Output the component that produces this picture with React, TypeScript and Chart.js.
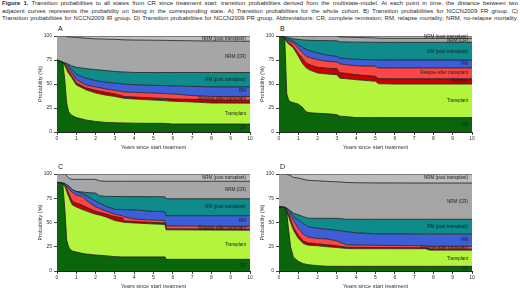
import React, { useEffect, useRef } from 'react';
import { Chart, registerables } from 'chart.js';
Chart.register(...registerables);

// ---------- shared ----------
const Y_TICKS = [0, 25, 50, 75, 100];
const X_TICKS = [0, 1, 2, 3, 4, 5, 6, 7, 8, 9, 10];
const STATE_NAMES = ['CR', 'Transplant', 'Relapse', 'Relapse after transplant', 'RM', 'RM (post transplant)', 'NRM (CR)', 'NRM (post transplant)'];
const STATE_COLORS = ['#0b650b', '#b2f53c', '#c80000', '#ff4646', '#3c5fd8', '#0f8b8b', '#a6a6a6', '#bdbdbd'];
const X_TITLE = 'Years since start treatment';
const Y_TITLE = 'Probability (%)';

// ---------- Panel A: whole cohort (cumulative curves, %) ----------
const timeA = [0, 0.3, 0.4, 0.5, 0.6, 0.75, 1, 1.5, 2, 2.5, 3, 3.5, 4, 5, 5.5, 6, 7, 8, 10];
const crA = [75, 72.5, 55, 30, 21, 17.5, 15, 12.5, 11, 10, 9.6, 9.4, 9.2, 9.0, 9.0, 8.3, 8.3, 8.3, 8.3];
const txA = [75, 72.5, 69, 65, 61, 57, 49, 44, 40.6, 38.5, 37, 35, 34.4, 33.3, 32.7, 32, 31.3, 30.2, 30];
const relA = [75, 72.5, 70, 68, 64, 59, 51, 46, 43.4, 41.5, 39.6, 37, 36.5, 35.4, 35, 34.4, 34, 33.3, 33];
const relTxA = [75, 72.5, 71, 70, 67, 62, 54.5, 49, 47, 45, 43.4, 41.7, 41.3, 40.6, 40, 39.6, 38, 37, 37];
const rmA = [75, 72.5, 71.5, 71, 69, 66, 60, 56, 53.5, 52, 51, 50, 49.3, 48.6, 48.3, 48, 47.5, 47, 47];
const rmTxA = [75, 72.5, 72, 71.5, 70.5, 69, 67.4, 66, 65, 64, 63, 62.5, 62, 62, 62, 62, 62, 62, 62];
const nrmCrA = [100, 100, 100, 99.5, 99, 98.8, 98.5, 97.7, 97, 96.7, 96.5, 96, 95.8, 95.6, 95.5, 95.3, 95, 94.8, 94.5];
const nrmTxA = [100, 100, 100, 100, 100, 100, 100, 100, 100, 100, 100, 100, 100, 100, 100, 100, 100, 100, 100];
const labelYA = [4, 19, null, 35, 43, 54.5, 78, 97];

// ---------- Panel B: NCCN2009 FR ----------
const timeB = [0, 0.25, 0.3, 0.4, 0.5, 0.6, 0.75, 1, 1.2, 1.4, 1.6, 2, 2.5, 3, 3.15, 3.5, 4, 5, 5.15, 6, 10];
const crB = [100, 99, 97, 40, 33, 31.5, 30.5, 29, 26, 21, 20, 19.5, 19, 18, 16.5, 16, 15, 15, 15, 15, 15];
const txB = [100, 99, 97, 94, 91.5, 90, 87.5, 79, 72, 67, 64.5, 61.5, 60.4, 59.7, 56, 55.5, 54.5, 52.8, 50.3, 50, 50];
const relB = [100, 99, 97, 95, 93, 92, 89, 82, 77, 72, 70, 67.4, 66.5, 66, 61.8, 61, 59.7, 58, 55.6, 55.5, 55.5];
const relTxB = [100, 99, 97.5, 96, 95, 94, 92.7, 87.5, 83, 79, 77.5, 75.3, 73.6, 73, 71, 70, 69, 68.4, 66.7, 66.7, 66.7];
const rmB = [100, 99, 98, 97.5, 96.5, 96, 94.4, 91, 88.5, 86, 84.5, 82.3, 80, 78.8, 77, 76.5, 75.7, 75.2, 75, 75, 75];
const rmTxB = [100, 99.5, 99, 98.5, 98, 97.8, 97, 96.5, 96, 95.7, 95.5, 95.3, 95.2, 95, 94, 93.8, 93.6, 93.5, 93.4, 93.4, 93.4];
const nrmCrB = [100, 100, 100, 100, 100, 100, 100, 100, 100, 100, 100, 100, 100, 100, 99, 98.8, 98.5, 98, 97.6, 97.5, 97.5];
const nrmTxB = [100, 100, 100, 100, 100, 100, 100, 100, 100, 100, 100, 100, 100, 100, 100, 100, 100, 100, 100, 100, 100];
const labelYB = [7.6, 32.6, 53.5, 62, 71, 84, 95.5, 99];

// ---------- Panel C: NCCN2009 IR ----------
const timeC = [0, 0.25, 0.3, 0.4, 0.45, 0.5, 0.6, 0.7, 0.8, 1, 1.3, 1.5, 2, 2.2, 2.5, 3, 3.4, 3.45, 4, 5, 5.6, 5.65, 10];
const crC = [91, 90.5, 90, 65, 50, 32, 25, 22, 20.5, 19.5, 18.2, 17.5, 16.5, 16.2, 15.8, 14.8, 14.5, 14.5, 14.5, 14.5, 14.5, 12, 12];
const txC = [91, 90.5, 90, 87, 85, 82, 77, 72, 68, 66, 63.5, 62, 58.5, 57.7, 56, 52, 50.5, 50.3, 49.5, 48.5, 48, 42.5, 42];
const relC = [91, 90.5, 90, 88, 87, 85, 80, 76, 72, 70, 68, 66, 61.5, 60.5, 59, 56, 55, 51.5, 51, 50, 49.5, 43.5, 43];
const relTxC = [91, 90.5, 90, 89, 88, 87, 85, 83, 81, 78, 77, 73, 66, 64.5, 62, 58.5, 57, 56, 53.5, 52.5, 52, 46.5, 46];
const rmC = [91, 90.5, 90.5, 90, 89.5, 89, 88, 86, 84, 82, 80, 78, 72, 70, 67, 63.5, 63.2, 63.2, 63, 61.5, 61, 57, 57];
const rmTxC = [91, 90.8, 90.8, 90.5, 89, 87, 84, 83, 82.5, 82, 81.5, 81, 80.3, 77.5, 77, 76.8, 76.8, 76.8, 76.7, 76.6, 76.5, 74.5, 74.5];
const nrmCrC = [100, 100, 100, 100, 99.5, 98, 96, 95, 94.5, 94.5, 94.5, 94.5, 94.5, 93, 92.5, 92.5, 92.5, 92.5, 92.5, 92.5, 92.5, 92.5, 92.5];
const nrmTxC = [100, 100, 100, 100, 100, 100, 100, 100, 100, 100, 100, 100, 100, 100, 100, 100, 100, 100, 100, 100, 100, 100, 100];
const labelYC = [5.5, 27.3, null, 44.6, 51.5, 66.4, 83.7, 96.5];

// ---------- Panel D: NCCN2009 PR ----------
const timeD = [0, 0.3, 0.4, 0.5, 0.6, 0.75, 1, 1.25, 1.5, 2, 2.5, 3, 3.5, 4, 5, 7.6, 7.8, 10];
const crD = [66, 65.4, 60, 42, 25, 14, 10, 7.6, 6.5, 5.5, 4.8, 4.8, 4.8, 4.8, 4.8, 4.8, 4.8, 4.8];
const txD = [66, 65.4, 60, 56, 50, 42, 33.6, 28.4, 26.6, 26, 25, 24.2, 23.2, 23, 23, 23, 21.5, 21.5];
const relD = [66, 65.4, 62, 58, 53, 45, 37, 31, 29, 28, 27, 26, 24.5, 24.3, 24.2, 24, 22.5, 22.5];
const relTxD = [66, 65.5, 63, 61, 57, 52, 44, 38, 35, 33.5, 33, 31, 27, 26.8, 26.5, 26, 25.5, 25.5];
const rmD = [66, 65.6, 64, 63, 61, 56, 52.6, 49, 45.7, 44, 43, 42, 40.5, 39.4, 38.4, 38, 38, 38];
const rmTxD = [66, 65.8, 65, 63.5, 62, 59.5, 58, 56, 54.5, 54.3, 54.3, 54.3, 53.3, 53.3, 53.3, 53.3, 53.3, 53.3];
const nrmCrD = [100, 100, 100, 99, 98.3, 96.5, 95.8, 94.5, 93.5, 93, 92.4, 92, 91.3, 91, 90.8, 90.7, 90.7, 90.7];
const nrmTxD = [100, 100, 100, 100, 100, 100, 100, 100, 100, 100, 100, 100, 100, 100, 100, 100, 100, 100];
const labelYD = [2.4, 12.8, null, 24.2, 31.8, 45.7, 71.6, 95.8];

const CAPTION_LINES = [
  'Transition probabilities to all states from CR since treatment start: transition probabilities derived from the multistate-model. At each point in time, the distance between two',
  'adjacent curves represents the probability on being in the corresponding state. A) Transition probabilities for the whole cohort. B) Transition probabilities for NCCN2009 FR group. C)',
  'Transition probabilities for NCCN2009 IR group. D) Transition probabilities for NCCN2009 PR group. Abbreviations: CR, complete remission; RM, relapse mortality; NRM, no-relapse mortality.',
];

const PANELS = [
  { letter: 'A', times: timeA, curves: [crA, txA, relA, relTxA, rmA, rmTxA, nrmCrA, nrmTxA], labels: labelYA, left: 30, top: 30, plotH: 96 },
  { letter: 'B', times: timeB, curves: [crB, txB, relB, relTxB, rmB, rmTxB, nrmCrB, nrmTxB], labels: labelYB, left: 252, top: 30, plotH: 96 },
  { letter: 'C', times: timeC, curves: [crC, txC, relC, relTxC, rmC, rmTxC, nrmCrC, nrmTxC], labels: labelYC, left: 30, top: 168, plotH: 97 },
  { letter: 'D', times: timeD, curves: [crD, txD, relD, relTxD, rmD, rmTxD, nrmCrD, nrmTxD], labels: labelYD, left: 252, top: 168, plotH: 97 },
];

const FONT = '"Liberation Sans", Arial, sans-serif';
const CANVAS_W = 228;
const PAD_TOP = 6;
const PAD_RIGHT = 8;
const Y_AXIS_W = 27;
const X_AXIS_H = 23;

type PanelProps = { times: number[]; curves: number[][]; labels: (number | null)[]; plotH: number };

function PanelChart({ times, curves, labels, plotH }: PanelProps) {
  const ref = useRef<HTMLCanvasElement>(null);
  const h = PAD_TOP + plotH + X_AXIS_H;
  useEffect(() => {
    if (!ref.current) return;
    const datasets = curves.map((c, i) => ({
      label: STATE_NAMES[i],
      data: times.map((t, j) => ({ x: t, y: c[j] })),
      backgroundColor: STATE_COLORS[i],
      borderColor: '#1b1b1b',
      borderWidth: 0.8,
      pointRadius: 0,
      tension: 0,
      fill: i === 0 ? 'origin' : '-1',
    }));
    const labelPlugin = {
      id: 'stateLabels',
      afterDatasetsDraw(chart: any) {
        const { ctx, chartArea, scales } = chart;
        ctx.save();
        ctx.font = `4.5px ${FONT}`;
        ctx.fillStyle = '#1e1e1e';
        ctx.textAlign = 'right';
        ctx.textBaseline = 'middle';
        labels.forEach((v, i) => {
          if (v === null) return;
          ctx.fillText(STATE_NAMES[i], chartArea.right - 4, scales.y.getPixelForValue(v));
        });
        ctx.restore();
      },
    };
    const tickFont = { family: FONT, size: 5 };
    const chart = new Chart(ref.current, {
      type: 'line',
      data: { datasets } as any,
      plugins: [labelPlugin],
      options: {
        animation: false,
        responsive: false,
        devicePixelRatio: 1,
        layout: { padding: { top: PAD_TOP, right: PAD_RIGHT, left: 0, bottom: 0 } },
        plugins: { legend: { display: false }, tooltip: { enabled: false } },
        scales: {
          x: {
            type: 'linear',
            min: 0,
            max: 10,
            afterFit: (s: any) => { s.height = X_AXIS_H; },
            afterBuildTicks: (s: any) => { s.ticks = X_TICKS.map((v) => ({ value: v })); },
            ticks: { font: tickFont, color: '#333', padding: 1, maxRotation: 0 },
            grid: { display: true, drawOnChartArea: false, drawTicks: true, tickLength: 3, color: '#444' },
            border: { display: true, color: '#222', width: 1 },
            title: { display: true, text: X_TITLE, font: { family: FONT, size: 5.5 }, color: '#333', padding: { top: 0, bottom: 4 } },
          },
          y: {
            type: 'linear',
            min: 0,
            max: 100,
            afterFit: (s: any) => { s.width = Y_AXIS_W; },
            afterBuildTicks: (s: any) => { s.ticks = Y_TICKS.map((v) => ({ value: v })); },
            ticks: { font: tickFont, color: '#333', padding: 2 },
            grid: { display: true, drawOnChartArea: false, drawTicks: true, tickLength: 3, color: '#444' },
            border: { display: true, color: '#222', width: 1 },
            title: { display: true, text: Y_TITLE, font: { family: FONT, size: 5.5 }, color: '#333', padding: { top: 7, bottom: 0 } },
          },
        },
      } as any,
    });
    return () => chart.destroy();
  }, []);
  return <canvas ref={ref} width={CANVAS_W} height={h} style={{ width: CANVAS_W, height: h, display: 'block' }} />;
}

export default function App() {
  return (
    <div style={{ position: 'fixed', left: 0, top: 0, width: 520, height: 291, background: '#fff', overflow: 'hidden', fontFamily: FONT }}>
      <div style={{ position: 'absolute', left: 2, top: 0, width: 516, fontSize: 6, lineHeight: '7.7px', color: '#2a2a2a' }}>
        {CAPTION_LINES.map((line, i) => (
          <div key={i} style={{ whiteSpace: 'nowrap', textAlign: 'justify', textAlignLast: 'justify' as any, height: 7.7 }}>
            {i === 0 ? <b>Figure 1. </b> : null}
            {line}
          </div>
        ))}
      </div>
      {PANELS.map((p) => (
        <React.Fragment key={p.letter}>
          <div style={{ position: 'absolute', left: p.left + 28, top: p.top - 5, fontSize: 7, color: '#222' }}>{p.letter}</div>
          <div style={{ position: 'absolute', left: p.left, top: p.top }}>
            <PanelChart times={p.times} curves={p.curves} labels={p.labels} plotH={p.plotH} />
          </div>
        </React.Fragment>
      ))}
    </div>
  );
}
